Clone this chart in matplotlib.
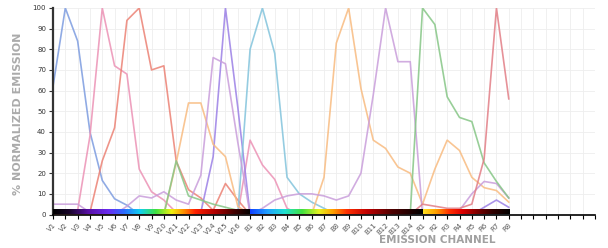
import numpy as np
import matplotlib
matplotlib.use("Agg")
import matplotlib.pyplot as plt
from matplotlib.colors import LinearSegmentedColormap

channels = ["V%d" % i for i in range(1, 17)] + ["B%d" % i for i in range(1, 15)] + ["R%d" % i for i in range(1, 9)]

#            V1 ...                                                        V16 | B1 ...                                             B14 | R1 ...                R8
blue     = [62, 100, 84, 40, 16.5, 7.6, 4.5, 0, 0, 0, 0, 0, 0, 0, 0, 0,   0, 0, 0, 0, 0, 0, 0, 0, 0, 0, 0, 0, 0, 0,   0, 0, 0, 0, 0, 0, 0, 0]
pink     = [0, 0, 2, 38, 100, 72, 68, 22, 11, 7, 1, 0, 0, 0, 0, 0,        36, 24, 17, 3, 0, 0, 0, 0, 0, 0, 0, 0, 0, 0,   0, 0, 0, 0, 0, 0, 0, 0]
red      = [0, 0, 0, 1, 26, 42, 94, 100, 70, 72, 26, 12, 8, 2, 15, 7,      0, 0, 0, 0, 0, 0, 0, 0, 0, 0, 0, 0, 0, 0,      0, 0, 0, 0, 0, 0, 0, 0]
violet   = [0, 0, 0, 0, 0, 0, 0, 0, 0, 0, 0, 0, 1, 28, 100, 52,             0, 0, 0, 0, 0, 0, 0, 0, 0, 0, 0, 0, 0, 0,      0, 0, 0, 0, 0, 3.5, 7, 3.5]
cyan     = [0, 0, 0, 0, 0, 0, 0, 0, 0, 0, 0, 0, 0, 0, 0, 0,                 80, 100, 78, 18, 10, 6, 3, 0, 0, 0, 0, 0, 0, 0, 0, 0, 0, 0, 0, 0, 0, 0]
orange   = [0, 0, 0, 0, 0, 0, 0, 0, 0, 0, 25, 54, 54, 34, 28, 4,           0, 0, 0, 0, 0, 0, 18, 83, 100, 61, 36, 32, 23, 20,  5, 22, 36, 31, 18, 13, 11.6, 6]
lavender = [5, 5, 5, 1, 0, 0, 4, 9, 8, 11, 7, 5, 19, 76, 73, 35,           0, 3, 7, 9, 10, 10, 9, 7, 9, 20, 58, 100, 74, 74,   0, 0, 0, 2, 10, 16, 15, 8]
green    = [0, 0, 0, 0, 0, 0, 0, 0, 0, 0, 26, 9, 7, 5, 3.5, 2,             0, 0, 0, 0, 0, 0, 0, 0, 0, 0, 0, 0, 0, 0,      100, 92, 57, 47, 45, 25, 16, 8]
red2     = [0, 0, 0, 0, 0, 0, 0, 0, 0, 0, 0, 0, 0, 0, 0, 0,                 0, 0, 0, 0, 0, 0, 0, 0, 0, 0, 0, 0, 0, 0,      5, 4, 3, 3, 5, 27, 100, 56]

series = [
    (blue, "#7d9ce0"),
    (pink, "#ec92b5"),
    (red, "#ec8275"),
    (violet, "#9b80e6"),
    (cyan, "#83c4dc"),
    (orange, "#f8bb80"),
    (lavender, "#c99edb"),
    (green, "#86c686"),
    (red2, "#e27e86"),
]

n_slots = 45
x = np.arange(len(channels))

fig = plt.figure(figsize=(6.08, 2.48), dpi=100)
ax = fig.add_axes([53 / 608, 1 - 214.5 / 248, 542 / 608, 206.5 / 248])

for vals, col in series:
    ax.plot(x, vals, color=col, lw=1.2, alpha=0.85, zorder=2)

# colour strip for each laser block
v_cmap = LinearSegmentedColormap.from_list("v", [
    (0.0, "#000000"), (0.08, "#180428"), (0.18, "#5a10a8"), (0.28, "#6a2cf0"),
    (0.36, "#2a6cff"), (0.44, "#10d0f0"), (0.52, "#40e040"), (0.60, "#f0f010"),
    (0.66, "#ff9000"), (0.72, "#ff2000"), (0.82, "#b00000"), (0.92, "#400000"), (1.0, "#000000")])
b_cmap = LinearSegmentedColormap.from_list("b", [
    (0.0, "#1040ff"), (0.1, "#20a0ff"), (0.2, "#20e0d0"), (0.3, "#40e040"),
    (0.4, "#e8f020"), (0.48, "#ffa000"), (0.56, "#ff3000"), (0.68, "#c00000"),
    (0.82, "#500000"), (1.0, "#000000")])
r_cmap = LinearSegmentedColormap.from_list("r", [
    (0.0, "#ffe020"), (0.15, "#ffa000"), (0.3, "#ff3000"), (0.45, "#e00000"),
    (0.62, "#800000"), (0.8, "#300000"), (1.0, "#000000")])

grad = np.linspace(0, 1, 256).reshape(1, -1)
band_h = 2.2
for cm, x0, x1 in [(v_cmap, 0, 16), (b_cmap, 16, 30), (r_cmap, 30, 37)]:
    ax.imshow(grad, cmap=cm, aspect="auto", extent=[x0, x1, 0, band_h], zorder=3)

ax.set_xlim(0, n_slots - 1)
ax.set_ylim(0, 100)

ax.set_yticks(np.arange(0, 101, 10))
ax.set_xticks(np.arange(n_slots))
ax.set_xticklabels(channels + [""] * (n_slots - len(channels)), rotation=45, ha="right",
                   rotation_mode="anchor", fontsize=5, color="#555555")
ax.tick_params(axis="y", labelsize=5, colors="#333333", length=3, width=0.8, pad=2)
ax.tick_params(axis="x", length=3, width=0.8, color="#000000", pad=2.5)

ax.grid(True, color="#eeeeee", lw=0.6, zorder=0)
ax.set_axisbelow(True)
for s in ["top", "right"]:
    ax.spines[s].set_visible(False)
ax.spines["left"].set_color("#333333")
ax.spines["left"].set_linewidth(1.6)
ax.spines["bottom"].set_color("#000000")
ax.spines["bottom"].set_linewidth(1.2)

fig.text(18 / 608, 1 - 114 / 248, "% NORMALIZED EMISSION", rotation=90, ha="center", va="center",
         fontsize=8, fontweight="bold", color="#ababab")
fig.text(437 / 608, 1 - 240 / 248, "EMISSION CHANNEL", ha="center", va="center",
         fontsize=7.5, fontweight="bold", color="#a0a0a0")

fig.savefig("out.png", dpi=100)
